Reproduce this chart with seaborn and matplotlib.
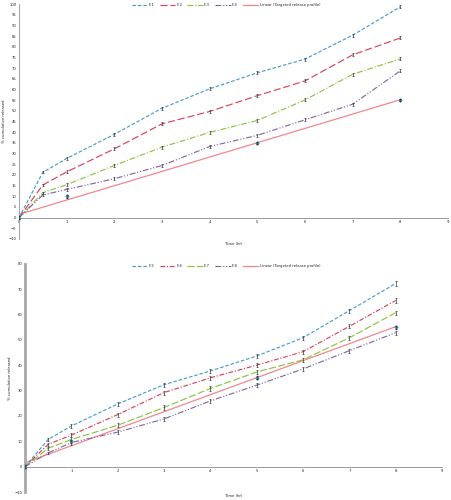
import numpy as np
import pandas as pd
import matplotlib
matplotlib.use("Agg")
import matplotlib.pyplot as plt
from matplotlib.lines import Line2D
import seaborn as sns

# ---------------- data ----------------
time_hr = [0, 0.5, 1, 2, 3, 4, 5, 6, 7, 8]

f1 = [0, 21.2, 27.7, 39.0, 51.2, 60.3, 67.8, 74.2, 85.4, 98.7]
f2 = [0, 15.3, 21.4, 32.2, 43.9, 49.7, 57.1, 64.0, 76.2, 84.1]
f3 = [0, 11.7, 15.4, 24.4, 33.0, 39.9, 45.5, 55.1, 67.1, 74.3]
f4 = [0, 10.6, 13.2, 18.2, 24.4, 33.3, 38.5, 45.8, 53.1, 68.7]

f5 = [0, 10.7, 16.0, 24.7, 32.3, 37.7, 43.6, 50.8, 61.5, 72.2]
f6 = [0, 8.8, 12.4, 20.5, 29.2, 35.0, 40.0, 45.3, 55.3, 65.5]
f7 = [0, 7.2, 10.7, 16.3, 23.3, 30.8, 37.3, 42.1, 50.8, 60.7]
f8 = [0, 5.4, 9.5, 13.6, 18.8, 25.9, 32.1, 38.5, 45.7, 52.8]

target_time = [0, 1, 5, 8]
target_release = [0, 10, 35, 55]

err_top = [0, 0.5, 0.7, 0.7, 0.7, 0.7, 0.7, 0.7, 0.7, 0.7]
err_bot = [0, 0.5, 0.8, 0.8, 0.8, 0.8, 0.8, 0.8, 0.8, 0.8]

top_labels = ["F-1", "F-2", "F-3", "F-4"]
bot_labels = ["F-5", "F-6", "F-7", "F-8"]
linear_label = "Linear (Targeted release profile)"

top_yticks = list(range(-10, 101, 5))
bot_yticks = list(range(-10, 81, 10))
x_ticks = list(range(0, 10))

# ---------------- style ----------------
sns.set_theme(style="white")
plt.rcParams["font.family"] = ["DejaVu Sans"]

BLUE = "#4a9dcb"
RED = "#d8435e"
GREEN = "#8cc443"
PURPLE = "#8468a8"
PINK = "#f4868e"
CYAN = "#1aa3c4"
DARK = "#3a3a3a"

top_styles = [
    (BLUE, (0, (3, 1.6))),
    (RED, (0, (6, 2.5))),
    (GREEN, (0, (5, 1.5, 1, 1.5))),
    (PURPLE, (0, (5, 1.5, 1, 1.5, 1, 1.5))),
]
bot_styles = [
    (BLUE, (0, (3, 1.6))),
    (RED, (0, (4, 1.5, 1, 1.5))),
    (GREEN, (0, (6, 2))),
    (PURPLE, (0, (5, 1.5, 1, 1.5, 1, 1.5))),
]

fig = plt.figure(figsize=(4.51, 5.00), dpi=100)
ax1 = fig.add_axes([19 / 451, 1 - 239 / 500, 429 / 451, 235 / 500])
ax2 = fig.add_axes([25 / 451, 1 - 492 / 500, 417 / 451, 228.3 / 500])

FS = 2.7


def draw(ax, series, labels, styles, errs, yticks, ylim, left_lw, legend_y,
         xlab_y, ylab_x):
    for vals, (col, ls) in zip(series, styles):
        df = pd.DataFrame({"t": time_hr, "v": vals})
        sns.lineplot(data=df, x="t", y="v", ax=ax, color=col, linestyle=ls,
                     linewidth=0.85, zorder=3)
        ax.errorbar(time_hr, vals, yerr=errs, fmt="none", ecolor=DARK,
                    elinewidth=0.5, capsize=0.8, capthick=0.5, zorder=4)
    sns.regplot(x=target_time, y=target_release, ax=ax, scatter=False,
                ci=None, truncate=True,
                line_kws=dict(color=PINK, linewidth=0.9, zorder=2))
    sns.scatterplot(x=target_time, y=target_release, ax=ax, color=CYAN,
                    marker="D", s=5, linewidth=0, zorder=5)
    ax.errorbar(target_time, target_release, yerr=0.6, fmt="none",
                ecolor=DARK, elinewidth=0.4, capsize=0.6, zorder=6)

    ax.set_xlim(0, 9)
    ax.set_ylim(*ylim)
    ax.set_xticks(x_ticks)
    ax.set_yticks(yticks)
    ax.tick_params(axis="both", labelsize=FS, length=0, pad=2,
                   colors="#222222")
    for s in ["top", "right"]:
        ax.spines[s].set_visible(False)
    ax.spines["bottom"].set_position(("data", 0))
    ax.spines["bottom"].set_color("#9a9a9a")
    ax.spines["bottom"].set_linewidth(0.7)
    ax.spines["left"].set_color("#a8a8a8")
    ax.spines["left"].set_linewidth(left_lw)
    ax.set_xlabel("Time (hr)", fontsize=FS, color="#222222", va="center")
    ax.xaxis.set_label_coords(0.5, xlab_y)
    ax.set_ylabel("% cumulative released", fontsize=FS, color="#222222",
                  va="center")
    ax.yaxis.set_label_coords(ylab_x, 0.5)

    handles = [Line2D([], [], color=c, linestyle=ls, linewidth=0.85)
               for c, ls in styles]
    handles.append(Line2D([], [], color=PINK, linewidth=0.9))
    fig.legend(handles, labels + [linear_label], loc="center",
               bbox_to_anchor=(226 / 451, legend_y), ncol=5, frameon=False,
               fontsize=FS, handlelength=4.1, columnspacing=1.4,
               handletextpad=0.35)


draw(ax1, [f1, f2, f3, f4], top_labels, top_styles, err_top, top_yticks,
     (-10, 100), 0.8, 1 - 5 / 500, -0.021, -0.035)
draw(ax2, [f5, f6, f7, f8], bot_labels, bot_styles, err_bot, bot_yticks,
     (-10, 80), 2.0, 1 - 266 / 500, -0.018, -0.035)

fig.savefig("out.png", dpi=100, facecolor="white")
